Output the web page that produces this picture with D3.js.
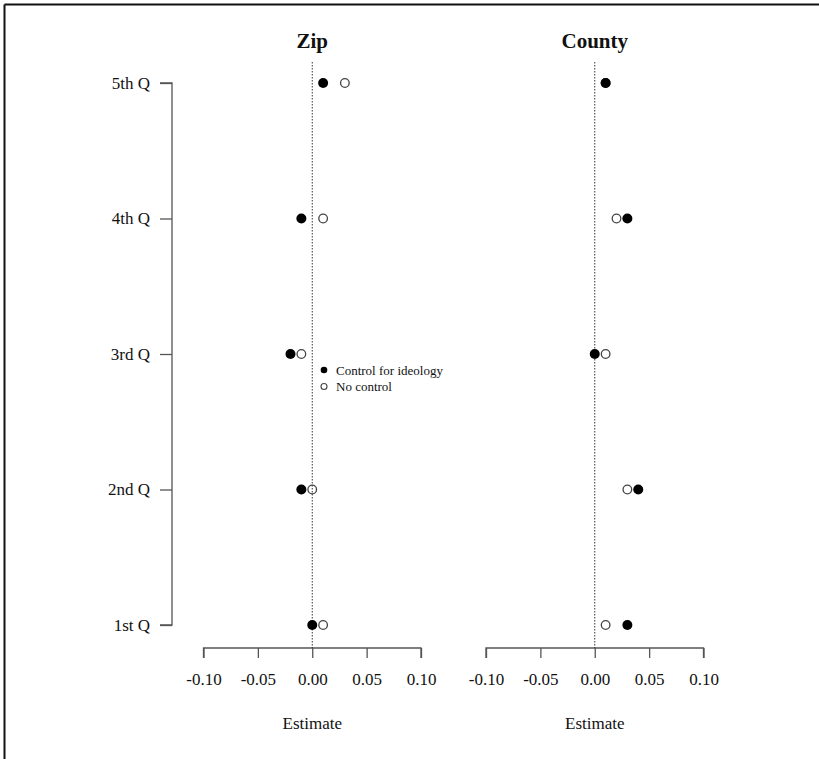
<!DOCTYPE html>
<html>
<head>
<meta charset="utf-8">
<script src="https://cdn.jsdelivr.net/npm/d3@7"></script>
<style>
  html, body { margin: 0; padding: 0; background: #fff; }
  svg { display: block; font-family: "Liberation Serif", "Times New Roman", serif; }
</style>
</head>
<body>
<svg id="chart" width="819" height="759"></svg>
<script>
const quintiles = ["1st Q", "2nd Q", "3rd Q", "4th Q", "5th Q"];
const zipControl = [0.00, -0.01, -0.02, -0.01, 0.01];
const zipNoControl = [0.01, 0.00, -0.01, 0.01, 0.03];
const countyControl = [0.03, 0.04, 0.00, 0.03, 0.01];
const countyNoControl = [0.01, 0.03, 0.01, 0.02, 0.01];
const xTicks = [-0.10, -0.05, 0.00, 0.05, 0.10];
const xTickLabels = ["-0.10", "-0.05", "0.00", "0.05", "0.10"];
const panelTitles = ["Zip", "County"];
const legendLabels = ["Control for ideology", "No control"];

const svg = d3.select("#chart");
const axisColor = "#555";

// frame (left and top edges)
svg.append("line").attr("x1", 4.5).attr("x2", 819).attr("y1", 4.5).attr("y2", 4.5)
  .attr("stroke", "#111").attr("stroke-width", 2);
svg.append("line").attr("x1", 4.5).attr("x2", 4.5).attr("y1", 4.5).attr("y2", 759)
  .attr("stroke", "#111").attr("stroke-width", 2);

const y = d3.scalePoint().domain(quintiles.slice().reverse()).range([83, 625]);

// y axis
const yAxisG = svg.append("g").attr("transform", "translate(172,0)")
  .call(d3.axisLeft(y).tickSize(12).tickPadding(10));
yAxisG.select(".domain").attr("d", `M-12,${y("5th Q")}H0V${y("1st Q")}H-12`)
  .attr("stroke", axisColor).attr("stroke-width", 1.3).attr("fill", "none");
yAxisG.selectAll(".tick line").attr("stroke", axisColor).attr("stroke-width", 1.3);
yAxisG.selectAll(".tick text").attr("font-size", 17).attr("fill", "#111")
  .attr("font-family", "Liberation Serif");

const panels = [
  { title: panelTitles[0], range: [203.5, 421], control: zipControl, noControl: zipNoControl },
  { title: panelTitles[1], range: [486, 703.5], control: countyControl, noControl: countyNoControl }
];

panels.forEach((p, pi) => {
  const x = d3.scaleLinear().domain([-0.10, 0.10]).range(p.range);
  const g = svg.append("g");

  // title
  g.append("text").attr("x", x(0)).attr("y", 48).attr("text-anchor", "middle")
    .attr("font-size", 21).attr("font-weight", "bold").attr("fill", "#111").text(p.title);

  // x axis
  const ax = g.append("g").attr("transform", "translate(0,648)")
    .call(d3.axisBottom(x).tickValues(xTicks)
      .tickFormat((d, i) => xTickLabels[i]).tickSize(10).tickPadding(15));
  ax.select(".domain").attr("stroke", axisColor).attr("stroke-width", 1.3)
    .attr("d", `M${x(-0.10)},10V0H${x(0.10)}V10`);
  ax.selectAll(".tick line").attr("stroke", axisColor).attr("stroke-width", 1.3);
  ax.selectAll(".tick text").attr("font-size", 17).attr("fill", "#111")
    .attr("font-family", "Liberation Serif");

  g.append("text").attr("x", x(0)).attr("y", 729).attr("text-anchor", "middle")
    .attr("font-size", 17).attr("fill", "#111").text("Estimate");

  // zero reference line
  g.append("line").attr("x1", x(0)).attr("x2", x(0)).attr("y1", 62).attr("y2", 648)
    .attr("stroke", "#333").attr("stroke-width", 1).attr("stroke-dasharray", "1.5,1.5");

  // points (open first, filled on top)
  g.selectAll("circle.noctrl").data(quintiles).join("circle").attr("class", "noctrl")
    .attr("cx", (d, i) => x(p.noControl[i])).attr("cy", d => y(d)).attr("r", 4.3)
    .attr("fill", "none").attr("stroke", "#444").attr("stroke-width", 1.3);
  g.selectAll("circle.ctrl").data(quintiles).join("circle").attr("class", "ctrl")
    .attr("cx", (d, i) => x(p.control[i])).attr("cy", d => y(d)).attr("r", 5)
    .attr("fill", "#000");

  if (pi === 0) {
    const leg = g.append("g").attr("transform", "translate(324,370)");
    legendLabels.forEach((lab, i) => {
      const row = leg.append("g").attr("transform", `translate(0,${i * 16.5})`);
      if (i === 0) {
        row.append("circle").attr("r", 3.3).attr("fill", "#000");
      } else {
        row.append("circle").attr("r", 3).attr("fill", "none").attr("stroke", "#444").attr("stroke-width", 1.1);
      }
      row.append("text").attr("x", 12).attr("y", 4.5).attr("font-size", 13)
        .attr("fill", "#111").text(lab);
    });
  }
});
</script>
</body>
</html>
